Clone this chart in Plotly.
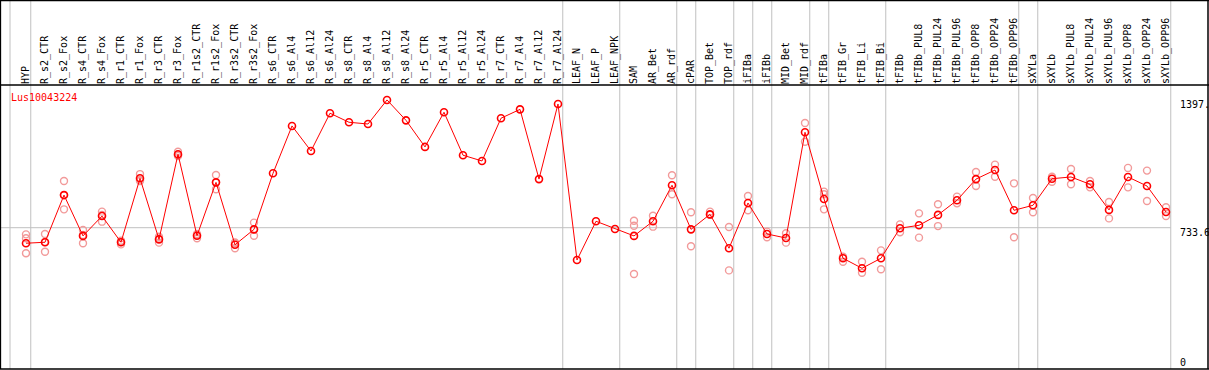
import plotly.graph_objects as go

# ---------------- data ----------------
samples = ["HYP", "R_s2_CTR", "R_s2_Fox", "R_s4_CTR", "R_s4_Fox", "R_r1_CTR", "R_r1_Fox",
           "R_r3_CTR", "R_r3_Fox", "R_r1s2_CTR", "R_r1s2_Fox", "R_r3s2_CTR", "R_r3s2_Fox",
           "R_s6_CTR", "R_s6_Al4", "R_s6_Al12", "R_s6_Al24", "R_s8_CTR", "R_s8_Al4", "R_s8_Al12",
           "R_s8_Al24", "R_r5_CTR", "R_r5_Al4", "R_r5_Al12", "R_r5_Al24", "R_r7_CTR", "R_r7_Al4",
           "R_r7_Al12", "R_r7_Al24", "LEAF_N", "LEAF_P", "LEAF_NPK", "SAM", "AR_Bet", "AR_rdf",
           "cPAR", "TOP_Bet", "TOP_rdf", "iFIBa", "iFIBb", "MID_Bet", "MID_rdf", "tFIBa",
           "tFIB_Gr", "tFIB_Li", "tFIB_Bi", "tFIBb", "tFIBb_PUL8", "tFIBb_PUL24", "tFIBb_PUL96",
           "tFIBb_OPP8", "tFIBb_OPP24", "tFIBb_OPP96", "sXYLa", "sXYLb", "sXYLb_PUL8",
           "sXYLb_PUL24", "sXYLb_PUL96", "sXYLb_OPP8", "sXYLb_OPP24", "sXYLb_OPP96"]

mean_values = [653, 658, 903, 691, 794, 658, 990, 673, 1115, 692, 969, 645, 725,
               1016, 1262, 1132, 1328, 1281, 1272, 1397, 1291, 1153, 1333, 1110, 1080,
               1302, 1348, 986, 1376, 566, 767, 727, 691, 767, 954, 725, 803, 627, 862,
               701, 680, 1229, 883, 575, 523, 575, 731, 746, 800, 876, 986, 1033, 824,
               850, 988, 997, 959, 826, 997, 950, 815]

replicate_values = [
    [699, 679, 601], [701, 659, 609], [976, 903, 829], [722, 696, 653], [817, 800, 765],
    [666, 659, 647], [1012, 981, 976], [687, 678, 656], [1128, 1110, 1106], [701, 696, 679],
    [1007, 969, 933], [657, 653, 627], [760, 724, 692],
    [], [], [], [], [], [], [], [], [], [], [], [], [], [], [], [], [], [], [],
    [770, 744, 493], [796, 739], [1006, 907], [814, 637], [817, 800], [737, 512],
    [898, 824], [713, 684], [705, 656], [1277, 1180], [921, 907, 829], [583, 557],
    [557, 500], [616, 518], [751, 710], [808, 682], [855, 742], [895, 860],
    [1023, 950], [1061, 998], [964, 684], [888, 814], [998, 972], [1038, 959],
    [976, 943], [867, 782], [1044, 943], [1030, 872], [840, 794],
]

gene_id = "Lus10043224"
axis_labels = ["0", "733.6", "1397."]
axis_values = [0, 733.6, 1397]
reference_level = 733.6
group_last = [0, 28, 31, 34, 35, 37, 38, 39, 41, 42, 45, 52, 53, 60]

# ---------------- figure ----------------
W, H = 1209, 370
ML, MR, MT, MB = 1, 1, 85, 1
plot_h = H - MT - MB
x_min, x_max = -25 / 19, 1182 / 19
y_min, y_max = 0, 1474.5
top_paper = 1 + MT / plot_h

idx = list(range(len(samples)))
rep_x, rep_y = [], []
for i, reps in enumerate(replicate_values):
    for v in reps:
        rep_x.append(i)
        rep_y.append(v)

fig = go.Figure()
fig.add_trace(go.Scatter(
    x=rep_x, y=rep_y, mode="markers",
    marker=dict(symbol="circle-open", size=7, color="#f29a9a", line=dict(width=1.4, color="#f29a9a")),
    hoverinfo="skip", showlegend=False, cliponaxis=False))
fig.add_trace(go.Scatter(
    x=idx, y=mean_values, mode="lines+markers",
    line=dict(color="#ff0000", width=1),
    marker=dict(symbol="circle-open", size=7, color="#ff0000", line=dict(width=1.6, color="#ff0000")),
    showlegend=False, cliponaxis=False))

shapes = []
grey = "#c0c0c0"
# group separators
sep_positions = [-16 / 19] + [g + 0.25 for g in group_last]
for sx in sep_positions:
    shapes.append(dict(type="line", xref="x", yref="paper", x0=sx, x1=sx, y0=0, y1=top_paper,
                       line=dict(color=grey, width=1), layer="below"))
# reference horizontal line
shapes.append(dict(type="line", xref="x", yref="y", x0=x_min, x1=group_last[-1] + 0.25,
                   y0=reference_level, y1=reference_level, line=dict(color=grey, width=1), layer="below"))
# frame
black = "#000000"
shapes.append(dict(type="line", xref="paper", yref="paper", x0=-0.001, x1=1.001, y0=1, y1=1,
                   line=dict(color=black, width=1.5)))
shapes.append(dict(type="line", xref="paper", yref="paper", x0=-0.001, x1=1.001,
                   y0=top_paper - 0.5 / plot_h, y1=top_paper - 0.5 / plot_h, line=dict(color=black, width=1.5)))
shapes.append(dict(type="line", xref="paper", yref="paper", x0=-0.001, x1=1.001, y0=0, y1=0,
                   line=dict(color=black, width=1.5)))
shapes.append(dict(type="line", xref="paper", yref="paper", x0=-0.0005, x1=-0.0005, y0=0, y1=top_paper,
                   line=dict(color=black, width=1.5)))
shapes.append(dict(type="line", xref="paper", yref="paper", x0=1, x1=1, y0=0, y1=top_paper,
                   line=dict(color=black, width=1.5)))

mono = "DejaVu Sans Mono"
annotations = [dict(text=gene_id, xref="paper", yref="paper", x=(9 - ML) / (W - ML - MR),
                    y=(H - MB - 97) / plot_h, xanchor="left", yanchor="middle", showarrow=False,
                    font=dict(family=mono, size=10, color="#ff0000"))]
for lab, val in zip(axis_labels, axis_values):
    shift = 7 if val == 0 else -5
    annotations.append(dict(text=lab, xref="x", yref="y", x=(1177.5 - 26) / 19, y=val,
                            xanchor="left", yanchor="middle", yshift=shift, showarrow=False,
                            font=dict(family=mono, size=10, color="#000000")))

fig.update_layout(
    width=W, height=H,
    margin=dict(l=ML, r=MR, t=MT, b=MB, pad=0),
    paper_bgcolor="white", plot_bgcolor="white",
    shapes=shapes, annotations=annotations,
    xaxis=dict(range=[x_min, x_max], side="top", tickmode="array", tickvals=idx, ticktext=samples,
               tickangle=-90, ticks="", showgrid=False, zeroline=False, showline=False,
               tickfont=dict(family=mono, size=10, color="#000000"), fixedrange=True),
    yaxis=dict(range=[y_min, y_max], showticklabels=False, ticks="", showgrid=False,
               zeroline=False, showline=False, fixedrange=True),
)

fig.write_html("out.html", config={"displayModeBar": False},
               post_script="document.body.style.margin='0';document.body.style.padding='0';")
